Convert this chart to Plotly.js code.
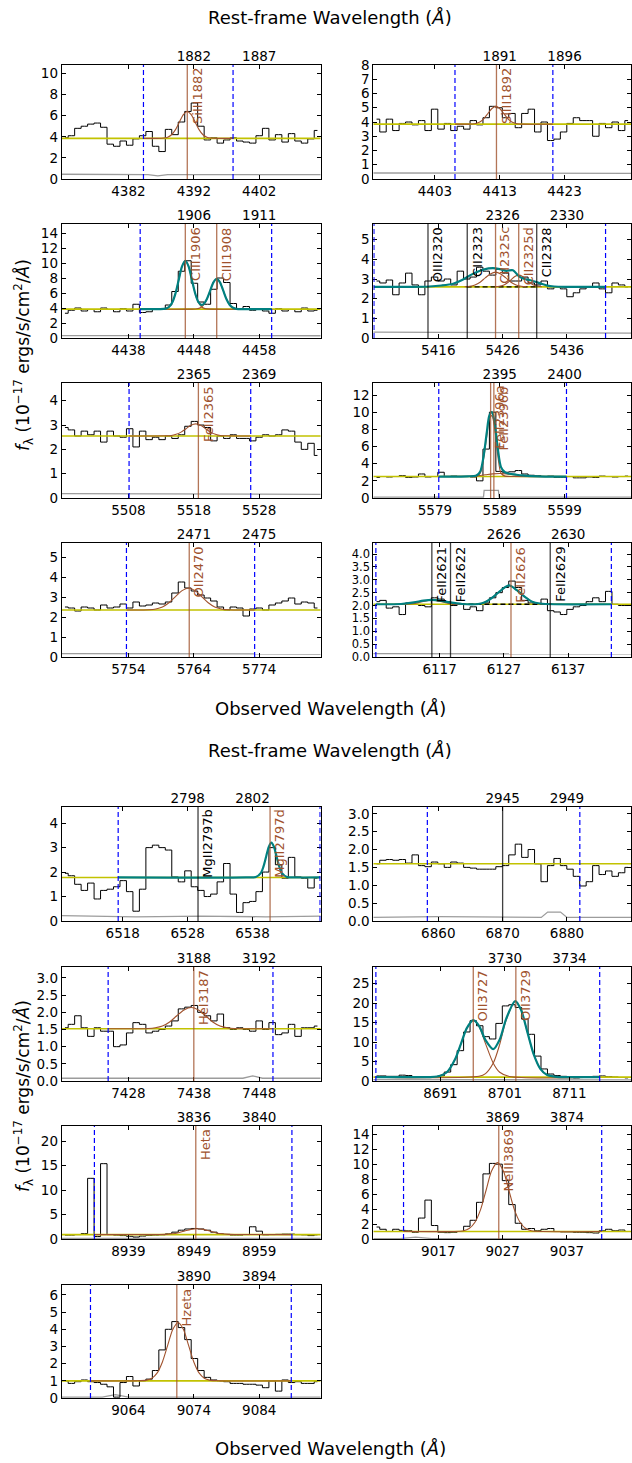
<!DOCTYPE html>
<html><head><meta charset="utf-8">
<script src="https://cdn.plot.ly/plotly-3.0.1.min.js"></script>
<style>html,body{margin:0;padding:0;background:#fff}#c{width:632px;height:1463px}</style>
</head><body><div id="c"></div>
<script>
// ================= DATA =================
// ---- panel 1 : SiIII 1882 ----
const p1Span = [4371.8, 4411.4];
const p1Flux = [3.9,4.1,4.8,5.0,5.2,5.3,4.9,3.3,3.1,3.6,3.2,3.8,4.1,4.5,3.1,2.6,4.7,4.2,5.4,6.4,7.2,5.0,3.7,3.9,3.4,3.7,3.9,3.6,3.5,3.4,4.1,4.8,3.7,4.2,3.5,4.3,3.6,3.4,3.8,4.6];
const p1Cont = 3.85;
const p1ErrX = [4371.8, 4383, 4385, 4386.5, 4388, 4411.4];
const p1ErrY = [0.45, 0.43, 0.42, 0.3, 0.42, 0.42];
const p1Lines = [4391.0];
const p1Names = ['SiIII1882'];
const p1Fitted = [1];
const p1Window = [4384.3, 4398.0];
const p1ObsTicks = [4382, 4392, 4402];
const p1RestTicks = ['1882', '1887'];
const p1FitX = [], p1FitY = [];
const p1CompX = [[4384.3,4386.2,4387.4,4388.0,4388.6,4389.2,4389.8,4390.4,4391.0,4391.6,4392.2,4392.8,4393.4,4394.0,4394.6,4395.8,4398.0]];
const p1CompY = [[3.85,3.85,3.88,3.96,4.19,4.68,5.40,6.10,6.40,6.10,5.40,4.68,4.19,3.96,3.88,3.85,3.85]];
const p1BaseX = [];

// ---- panel 2 : SiIII 1892 ----
const p2Span = [4393.5, 4433.3];
const p2Flux = [4.2,3.3,4.2,3.4,3.9,4.0,3.8,4.1,3.4,4.9,3.5,3.9,3.4,3.7,3.5,4.1,3.8,4.3,5.1,5.0,4.3,4.6,3.6,4.6,4.9,3.3,4.0,2.7,2.8,3.3,3.9,4.3,4.1,4.1,3.0,3.9,3.6,4.0,3.4,4.1];
const p2Cont = 3.85;
const p2ErrX = [4393.5, 4433.3];
const p2ErrY = [0.42, 0.4];
const p2Lines = [4412.5];
const p2Names = ['SiIII1892'];
const p2Fitted = [1];
const p2Window = [4406.1, 4421.2];
const p2ObsTicks = [4403, 4413, 4423];
const p2RestTicks = ['1891', '1896'];
const p2FitX = [], p2FitY = [];
const p2CompX = [[4406.1,4408.2,4408.8,4409.4,4410.0,4410.6,4411.2,4411.8,4412.4,4413.0,4413.6,4414.2,4414.8,4415.4,4416.0,4416.6,4421.2]];
const p2CompY = [[3.85,3.85,3.86,3.91,4.02,4.26,4.61,4.95,5.10,4.95,4.61,4.26,4.02,3.91,3.86,3.85,3.85]];
const p2BaseX = [];

// ---- panel 3 : CIII] 1906/1908 ----
const p3Span = [4427.8, 4467.4];
const p3Flux = [3.3,3.7,4.0,3.6,3.8,3.5,4.0,3.8,3.5,3.9,3.6,4.5,3.4,3.5,3.8,3.9,4.4,6.2,8.9,10.3,7.3,4.8,4.5,6.5,8.0,7.4,4.6,3.9,4.2,3.7,3.9,3.6,3.3,3.9,3.6,3.8,3.5,4.0,3.6,3.7];
const p3Cont = 3.85;
const p3ErrX = [4427.8, 4467.4];
const p3ErrY = [0.32, 0.3];
const p3Lines = [4446.7, 4451.5];
const p3Names = ['CIII1906', 'CIII1908'];
const p3Fitted = [1, 1];
const p3Window = [4439.8, 4459.9];
const p3ObsTicks = [4438, 4448, 4458];
const p3RestTicks = ['1906', '1911'];
const p3FitX = [4439.8,4442.7,4443.7,4444.2,4444.7,4445.2,4445.7,4446.2,4446.7,4447.2,4447.7,4448.2,4448.7,4449.1,4449.5,4450.0,4450.5,4451.0,4451.5,4452.0,4452.5,4453.0,4453.5,4454.0,4454.5,4455.5,4459.9];
const p3FitY = [3.85,3.85,3.92,4.13,4.72,5.95,7.77,9.54,10.30,9.54,7.77,5.97,4.80,4.44,4.53,5.20,6.31,7.42,7.90,7.42,6.31,5.17,4.40,4.03,3.89,3.85,3.85];
const p3CompX = [[4439.8,4442.7,4443.7,4444.2,4444.7,4445.2,4445.7,4446.2,4446.7,4447.2,4447.7,4448.2,4448.7,4449.2,4449.7,4450.7,4459.9],
                 [4439.8,4447.5,4448.5,4449.0,4449.5,4450.0,4450.5,4451.0,4451.5,4452.0,4452.5,4453.0,4453.5,4454.0,4454.5,4455.5,4459.9]];
const p3CompY = [[3.85,3.85,3.92,4.13,4.72,5.95,7.77,9.54,10.30,9.54,7.77,5.95,4.72,4.13,3.92,3.85,3.85],
                 [3.85,3.85,3.89,4.03,4.40,5.17,6.31,7.42,7.90,7.42,6.31,5.17,4.40,4.03,3.89,3.85,3.85]];
const p3BaseX = [];

// ---- panel 4 : CII] 2326 complex ----
const p4Span = [5405.9, 5446.0];
const p4Flux = [2.9,2.8,2.95,2.2,2.8,3.3,2.7,2.2,2.9,3.1,2.9,3.0,2.7,3.4,3.0,3.1,3.6,3.4,3.2,3.5,3.3,2.9,2.9,3.1,2.8,2.7,2.9,2.5,2.6,2.5,2.1,2.3,2.5,2.6,2.8,2.5,2.3,2.8,2.7,2.6];
const p4Cont = 2.6;
const p4ErrX = [5405.9, 5446.0];
const p4ErrY = [0.3, 0.25];
const p4Lines = [5414.4, 5420.5, 5424.9, 5428.5, 5431.3];
const p4Names = ['OIII2320', 'CII2323', 'CII2325c', 'CII2325d', 'CII2328'];
const p4Fitted = [0, 0, 1, 1, 0];
const p4Window = [5406.0, 5442.0];
const p4ObsTicks = [5416, 5426, 5436];
const p4RestTicks = ['2326', '2330'];
const p4FitX = [5406.0,5412.0,5414.6,5416.5,5418.3,5419.7,5421.0,5422.0,5423.0,5424.5,5425.6,5426.6,5427.6,5428.6,5429.4,5430.2,5431.2,5432.0,5432.8,5434.0,5436.0,5442.0];
const p4FitY = [2.6,2.6,2.62,2.67,2.76,2.95,3.2,3.36,3.48,3.55,3.5,3.42,3.45,3.12,3.0,2.95,2.85,2.76,2.68,2.62,2.6,2.6];
const p4CompX = [[5420.1,5420.9,5421.7,5422.5,5423.3,5424.1,5424.9,5425.7,5426.5,5427.3,5428.1,5428.9,5429.7],
                 [5424.9,5425.5,5426.1,5426.7,5427.3,5427.9,5428.5,5429.1,5429.7,5430.3,5430.9,5431.5,5432.1]];
const p4CompY = [[2.61,2.63,2.70,2.84,3.06,3.26,3.35,3.26,3.06,2.84,2.70,2.63,2.61],
                 [2.61,2.63,2.68,2.80,2.96,3.13,3.20,3.13,2.96,2.80,2.68,2.63,2.61]];
const p4BaseX = [5420.4, 5431.2];

// ---- panel 5 : FeII 2365 ----
const p5Span = [5497.8, 5537.4];
const p5Flux = [2.9,2.8,2.55,2.75,2.6,2.75,2.3,2.75,2.55,2.5,2.85,2.1,2.75,2.4,2.5,2.4,2.55,2.45,2.6,2.95,3.15,3.0,2.9,2.35,2.55,2.45,2.6,2.45,2.45,2.35,2.5,2.6,2.55,2.6,2.8,2.75,2.3,2.0,2.25,1.75];
const p5Cont = 2.55;
const p5ErrX = [5497.8, 5537.4];
const p5ErrY = [0.18, 0.15];
const p5Lines = [5518.7];
const p5Names = ['FeII2365'];
const p5Fitted = [1];
const p5Window = [5508.1, 5526.7];
const p5ObsTicks = [5508, 5518, 5528];
const p5RestTicks = ['2365', '2369'];
const p5FitX = [], p5FitY = [];
const p5CompX = [[5508.1,5513.8,5514.55,5515.3,5516.05,5516.8,5517.55,5518.3,5519.05,5519.8,5520.55,5521.3,5522.05,5522.8,5526.7]];
const p5CompY = [[2.55,2.56,2.57,2.62,2.71,2.85,2.99,3.05,2.99,2.85,2.71,2.62,2.57,2.56,2.55]];
const p5BaseX = [];

// ---- panel 6 : FeII* 2396 ----
const p6Span = [5569.5, 5609.3];
const p6Flux = [2.4,2.5,2.45,2.5,2.6,2.4,2.45,2.8,2.45,2.5,3.0,2.5,2.55,2.5,2.5,2.45,2.0,5.7,10.0,3.1,3.0,3.05,3.2,2.8,2.65,2.6,2.5,2.55,2.4,2.4,2.5,2.35,2.35,2.45,2.4,2.55,2.5,2.45,2.5,2.55];
const p6Cont = 2.5;
const p6ErrX = [5569.5, 5586.5, 5586.6, 5588.8, 5588.9, 5609.3];
const p6ErrY = [0.1, 0.1, 0.9, 0.9, 0.1, 0.1];
const p6Lines = [5587.6, 5588.1];
const p6Names = ['FeII2396a', 'FeII2396b'];
const p6Fitted = [1, 1];
const p6Window = [5579.6, 5599.3];
const p6ObsTicks = [5579, 5589, 5599];
const p6RestTicks = ['2395', '2400'];
const p6FitX = [5579.6,5584.0,5585.4,5586.0,5586.5,5587.0,5587.4,5587.8,5588.2,5588.7,5589.2,5589.8,5590.5,5591.5,5592.5,5594.0,5596.0,5599.3];
const p6FitY = [2.5,2.53,2.62,3.1,4.8,7.6,9.6,10.0,8.9,5.8,3.6,3.0,2.82,2.72,2.63,2.55,2.5,2.5];
const p6CompX = [[5579.6,5584.5,5585.4,5586.0,5586.5,5587.0,5587.4,5587.8,5588.2,5588.7,5589.2,5589.8,5591.0,5599.3],
                 [5579.6,5583.0,5584.6,5585.7,5586.8,5587.9,5589.0,5590.1,5591.2,5592.3,5593.4,5595.0,5599.3]];
const p6CompY = [[2.5,2.5,2.52,2.9,4.5,7.2,9.2,9.6,8.2,5.0,2.9,2.55,2.5,2.5],
                 [2.5,2.52,2.55,2.61,2.71,2.81,2.85,2.81,2.71,2.61,2.55,2.52,2.5]];
const p6BaseX = [];

// ---- panel 7 : [OII] 2470 ----
const p7Span = [5743.8, 5783.4];
const p7Flux = [2.5,2.45,2.3,2.5,2.45,2.35,2.6,2.45,2.5,2.65,2.45,2.75,2.55,2.6,2.7,2.65,2.75,3.2,3.75,3.45,3.3,3.1,2.95,2.8,2.5,2.35,2.5,2.45,2.05,2.4,2.45,2.35,2.6,2.7,2.8,2.95,2.65,2.75,2.7,2.45];
const p7Cont = 2.35;
const p7ErrX = [5743.8, 5783.4];
const p7ErrY = [0.17, 0.15];
const p7Lines = [5763.3];
const p7Names = ['OII2470'];
const p7Fitted = [1];
const p7Window = [5753.7, 5773.3];
const p7ObsTicks = [5754, 5764, 5774];
const p7RestTicks = ['2471', '2475'];
const p7FitX = [], p7FitY = [];
const p7CompX = [[5753.7,5757.2,5758.2,5759.2,5760.2,5761.2,5762.2,5763.2,5764.2,5765.2,5766.2,5767.2,5768.2,5769.2,5773.3]];
const p7CompY = [[2.35,2.36,2.40,2.50,2.71,3.02,3.32,3.45,3.32,3.02,2.71,2.50,2.40,2.36,2.35]];
const p7BaseX = [];

// ---- panel 8 : FeII* 2626 ----
const p8Span = [6106.7, 6146.8];
const p8Flux = [2.15,2.2,1.9,1.95,1.65,2.1,2.05,2.0,1.95,2.3,2.25,2.15,2.0,2.05,1.85,1.95,1.8,2.1,2.3,2.5,2.7,2.95,2.7,2.2,2.1,2.05,2.25,1.8,1.75,1.65,1.85,1.95,2.0,2.15,2.3,2.15,2.55,2.05,2.0,2.0];
const p8Cont = 2.05;
const p8ErrX = [6106.7, 6146.8];
const p8ErrY = [0.13, 0.12];
const p8Lines = [6115.8, 6118.7, 6128.1, 6134.2];
const p8Names = ['FeII2621', 'FeII2622', 'FeII2626', 'FeII2629'];
const p8Fitted = [0, 0, 1, 0];
const p8Window = [6107.1, 6143.7];
const p8ObsTicks = [6117, 6127, 6137];
const p8RestTicks = ['2626', '2630'];
const p8FitX = [6107.1,6111.0,6113.0,6114.5,6115.8,6117.1,6118.6,6120.5,6123.0,6124.2,6125.4,6126.6,6127.8,6129.0,6130.2,6131.4,6132.6,6135.0,6143.7];
const p8FitY = [2.05,2.06,2.12,2.19,2.22,2.19,2.12,2.06,2.06,2.15,2.35,2.6,2.78,2.6,2.35,2.15,2.08,2.05,2.05];
const p8CompX = [[6119.0,6123.0,6124.2,6125.4,6126.6,6127.8,6129.0,6130.2,6131.4,6132.6,6136.0],
                 [6110.0,6112.8,6114.3,6115.8,6117.3,6118.8,6121.0]];
const p8CompY = [[2.05,2.06,2.15,2.35,2.6,2.78,2.6,2.35,2.15,2.06,2.05],
                 [2.05,2.07,2.15,2.22,2.15,2.07,2.05]];
const p8BaseX = [6119.0, 6134.5];

// ---- panel 9 : MgII 2797 ----
const p9Span = [6508.6, 6548.5];
const p9Flux = [1.95,1.85,1.5,1.25,1.55,0.9,1.25,1.3,1.4,1.65,1.2,0.4,1.3,3.0,3.1,3.0,2.9,1.8,1.6,2.05,1.4,1.25,1.0,1.1,1.6,2.35,1.1,0.35,0.75,0.8,1.2,2.0,3.0,2.3,1.75,2.6,1.8,1.75,1.35,1.75];
const p9Cont = 1.78;
const p9ErrX = [6508.6, 6520, 6530, 6540, 6548.5];
const p9ErrY = [0.22, 0.17, 0.2, 0.17, 0.2];
const p9Lines = [6529.6, 6540.7];
const p9Names = ['MgII2797b', 'MgII2797d'];
const p9Fitted = [0, 1];
const p9Window = [6517.3, 6548.4];
const p9ObsTicks = [6518, 6528, 6538];
const p9RestTicks = ['2798', '2802'];
const p9FitX = [6517.3,6537.0,6538.5,6539.3,6539.7,6540.1,6540.5,6540.9,6541.3,6541.7,6542.1,6542.5,6543.3,6544.5,6548.4];
const p9FitY = [1.78,1.78,1.80,1.97,2.24,2.64,3.03,3.20,3.03,2.64,2.24,1.97,1.80,1.78,1.78];
const p9CompX = [], p9CompY = [];
const p9BaseX = [];

// ---- panel 10 : 2945 ----
const p10Span = [6849.9, 6890.0];
const p10Flux = [1.6,1.7,1.72,1.7,1.72,1.62,1.85,1.55,1.52,1.65,1.6,1.5,1.65,1.62,1.5,1.48,1.45,1.45,1.45,1.52,1.55,1.85,2.15,1.78,2.0,1.6,1.1,1.55,1.75,1.55,1.45,1.25,0.98,1.1,1.55,1.3,1.4,1.25,1.35,1.5];
const p10Cont = 1.6;
const p10ErrX = [6849.9, 6860, 6876, 6877, 6879, 6880, 6890.0];
const p10ErrY = [0.1, 0.12, 0.1, 0.25, 0.25, 0.1, 0.1];
const p10Lines = [6870.0];
const p10Names = [''];
const p10Fitted = [0];
const p10Window = [6858.3, 6882.0];
const p10ObsTicks = [6860, 6870, 6880];
const p10RestTicks = ['2945', '2949'];
const p10FitX = [], p10FitY = [];
const p10CompX = [], p10CompY = [];
const p10BaseX = [];

// ---- panel 11 : HeI 3187 ----
const p11Span = [7417.8, 7457.4];
const p11Flux = [1.55,1.65,1.9,1.55,1.3,1.55,1.45,1.45,1.0,1.05,1.4,1.7,1.65,1.4,1.45,1.5,1.6,1.75,2.1,2.15,2.2,2.0,1.9,1.75,1.95,1.55,1.5,1.55,1.5,1.45,1.75,1.5,1.7,1.35,1.4,1.65,1.3,1.55,1.55,1.6];
const p11Cont = 1.52;
const p11ErrX = [7417.8, 7445.5, 7447, 7448.5, 7457.4];
const p11ErrY = [0.08, 0.08, 0.15, 0.08, 0.08];
const p11Lines = [7438.0];
const p11Names = ['HeI3187'];
const p11Fitted = [1];
const p11Window = [7424.9, 7450.1];
const p11ObsTicks = [7428, 7438, 7448];
const p11RestTicks = ['3188', '3192'];
const p11FitX = [], p11FitY = [];
const p11CompX = [[7424.9,7431.0,7432.1,7433.2,7434.3,7435.4,7436.5,7437.6,7438.7,7439.8,7440.9,7442.0,7443.1,7444.2,7450.1]];
const p11CompY = [[1.52,1.53,1.55,1.60,1.72,1.90,2.07,2.14,2.07,1.90,1.72,1.60,1.55,1.53,1.52]];
const p11BaseX = [];

// ---- panel 12 : [OII] 3727/3729 ----
const p12Span = [8680.6, 8720.6];
const p12Flux = [1.3,1.3,1.2,1.2,1.5,1.4,1.0,0.9,0.9,0.9,1.3,2.3,4.2,7.8,12.6,15.5,14.2,11.4,10.8,14.8,19.3,19.6,18.9,15.9,12.0,6.4,3.1,1.8,1.4,1.2,1.0,0.8,0.9,0.9,1.2,1.3,1.1,1.0,0.9,0.8];
const p12Cont = 1.0;
const p12ErrX = [8680.6, 8720.6];
const p12ErrY = [0.35, 0.3];
const p12Lines = [8696.1, 8702.7];
const p12Names = ['OII3727', 'OII3729'];
const p12Fitted = [1, 1];
const p12Window = [8681.0, 8715.7];
const p12ObsTicks = [8691, 8701, 8711];
const p12RestTicks = ['3730', '3734'];
const p12FitX = [8681.0,8689.0,8690.5,8692.0,8693.3,8694.2,8695.1,8696.1,8697.0,8698.0,8699.2,8700.2,8701.2,8702.6,8703.5,8704.5,8705.5,8706.5,8707.5,8709.0,8711.0,8715.7];
const p12FitY = [1.0,1.01,1.15,2.25,5.65,9.62,13.6,15.64,14.18,10.5,8.19,10.66,15.98,20.53,18.3,12.5,6.7,3.1,1.58,1.05,1.0,1.0];
const p12CompX = [[8681.0,8690.5,8692.0,8693.3,8694.2,8695.1,8696.1,8697.0,8698.0,8699.2,8700.2,8701.7,8715.7],
                  [8681.0,8697.0,8698.0,8699.2,8700.2,8701.2,8702.6,8703.5,8704.5,8705.5,8706.5,8707.5,8709.0,8715.7]];
const p12CompY = [[1.0,1.15,2.25,5.65,9.62,13.6,15.6,13.98,9.61,4.59,2.25,1.15,1.0],
                  [1.0,1.2,1.89,4.6,9.41,15.65,20.5,18.3,12.5,6.7,3.1,1.58,1.05,1.0]];
const p12BaseX = [];

// ---- panel 13 : H-eta ----
const p13Span = [8928.8, 8968.4];
const p13Flux = [0.8,0.8,0.9,1.1,12.4,0.5,15.4,0.9,0.8,0.7,0.55,0.4,0.6,0.75,0.8,0.85,1.05,1.4,1.8,2.05,2.15,2.05,1.8,1.4,1.05,0.95,0.8,0.8,0.9,2.5,1.6,0.85,0.9,0.95,1.0,1.0,0.9,0.85,0.7,0.85];
const p13Cont = 0.9;
const p13ErrX = [8928.8, 8968.4];
const p13ErrY = [0.12, 0.1];
const p13Lines = [8949.3];
const p13Names = ['Heta'];
const p13Fitted = [1];
const p13Window = [8933.8, 8964.0];
const p13ObsTicks = [8939, 8949, 8959];
const p13RestTicks = ['3836', '3840'];
const p13FitX = [], p13FitY = [];
const p13CompX = [[8933.8,8943.8,8944.75,8945.7,8946.65,8947.6,8948.55,8949.5,8950.45,8951.4,8952.35,8953.3,8954.25,8955.2,8964.0]];
const p13CompY = [[0.9,0.91,0.95,1.06,1.29,1.63,1.96,2.10,1.96,1.63,1.29,1.06,0.95,0.91,0.9]];
const p13BaseX = [];

// ---- panel 14 : [NeIII] 3869 ----
const p14Span = [9006.9, 9047.0];
const p14Flux = [1.6,1.3,1.0,1.3,1.15,1.1,0.9,2.8,5.2,1.8,0.9,0.85,0.9,1.0,1.7,2.5,4.9,8.7,10.1,10.0,7.8,4.6,2.1,1.3,1.4,1.1,1.3,1.4,1.0,0.95,0.95,0.9,0.9,0.85,0.8,1.1,1.3,1.1,1.2,1.0];
const p14Cont = 1.0;
const p14ErrX = [9006.9, 9011, 9013.5, 9016, 9047.0];
const p14ErrY = [0.05, 0.05, 0.25, 0.05, 0.05];
const p14Lines = [9026.4];
const p14Names = ['NeIII3869'];
const p14Fitted = [1];
const p14Window = [9011.6, 9042.4];
const p14ObsTicks = [9017, 9027, 9037];
const p14RestTicks = ['3869', '3874'];
const p14FitX = [], p14FitY = [];
const p14CompX = [[9011.6,9019.2,9020.95,9021.8,9022.7,9023.6,9024.45,9025.3,9026.2,9027.1,9027.95,9028.8,9029.7,9030.6,9031.45,9033.2,9042.4]];
const p14CompY = [[1.0,1.0,1.10,1.40,2.24,3.99,6.58,9.11,10.2,9.11,6.58,3.99,2.24,1.40,1.10,1.0,1.0]];
const p14BaseX = [];

// ---- panel 15 : H-zeta ----
const p15Span = [9053.8, 9093.4];
const p15Flux = [1.0,0.85,0.95,1.05,0.95,0.9,0.8,0.65,0.05,0.9,1.25,0.7,1.0,1.1,1.6,2.8,4.0,4.45,4.1,3.4,2.3,1.6,1.2,1.05,1.0,0.95,0.85,0.85,0.8,0.8,0.75,0.6,1.0,0.4,1.05,0.9,0.95,0.85,0.85,0.95];
const p15Cont = 1.0;
const p15ErrX = [9053.8, 9060, 9062, 9064, 9093.4];
const p15ErrY = [0.05, 0.05, 0.2, 0.05, 0.05];
const p15Lines = [9071.4];
const p15Names = ['Hzeta'];
const p15Fitted = [1];
const p15Window = [9058.2, 9088.9];
const p15ObsTicks = [9064, 9074, 9084];
const p15RestTicks = ['3890', '3894'];
const p15FitX = [], p15FitY = [];
const p15CompX = [[9058.2,9065.2,9066.8,9067.6,9068.4,9069.2,9070.0,9070.8,9071.6,9072.4,9073.2,9074.0,9074.8,9075.6,9076.4,9078.0,9088.9]];
const p15CompY = [[1.0,1.0,1.04,1.15,1.46,2.10,3.06,4.0,4.4,4.0,3.06,2.10,1.46,1.15,1.04,1.0,1.0]];
const p15BaseX = [];

// ================= BUILD =================
function P(span, flux, cont, errX, errY, lines, names, fitted, win, obs, rest, fitX, fitY, compX, compY, baseX) {
  return {span, flux, cont, errX, errY, lines, names, fitted, win, obs, rest, fitX, fitY, compX, compY, baseX};
}
const panels = [
  P(p1Span,p1Flux,p1Cont,p1ErrX,p1ErrY,p1Lines,p1Names,p1Fitted,p1Window,p1ObsTicks,p1RestTicks,p1FitX,p1FitY,p1CompX,p1CompY,p1BaseX),
  P(p2Span,p2Flux,p2Cont,p2ErrX,p2ErrY,p2Lines,p2Names,p2Fitted,p2Window,p2ObsTicks,p2RestTicks,p2FitX,p2FitY,p2CompX,p2CompY,p2BaseX),
  P(p3Span,p3Flux,p3Cont,p3ErrX,p3ErrY,p3Lines,p3Names,p3Fitted,p3Window,p3ObsTicks,p3RestTicks,p3FitX,p3FitY,p3CompX,p3CompY,p3BaseX),
  P(p4Span,p4Flux,p4Cont,p4ErrX,p4ErrY,p4Lines,p4Names,p4Fitted,p4Window,p4ObsTicks,p4RestTicks,p4FitX,p4FitY,p4CompX,p4CompY,p4BaseX),
  P(p5Span,p5Flux,p5Cont,p5ErrX,p5ErrY,p5Lines,p5Names,p5Fitted,p5Window,p5ObsTicks,p5RestTicks,p5FitX,p5FitY,p5CompX,p5CompY,p5BaseX),
  P(p6Span,p6Flux,p6Cont,p6ErrX,p6ErrY,p6Lines,p6Names,p6Fitted,p6Window,p6ObsTicks,p6RestTicks,p6FitX,p6FitY,p6CompX,p6CompY,p6BaseX),
  P(p7Span,p7Flux,p7Cont,p7ErrX,p7ErrY,p7Lines,p7Names,p7Fitted,p7Window,p7ObsTicks,p7RestTicks,p7FitX,p7FitY,p7CompX,p7CompY,p7BaseX),
  P(p8Span,p8Flux,p8Cont,p8ErrX,p8ErrY,p8Lines,p8Names,p8Fitted,p8Window,p8ObsTicks,p8RestTicks,p8FitX,p8FitY,p8CompX,p8CompY,p8BaseX),
  P(p9Span,p9Flux,p9Cont,p9ErrX,p9ErrY,p9Lines,p9Names,p9Fitted,p9Window,p9ObsTicks,p9RestTicks,p9FitX,p9FitY,p9CompX,p9CompY,p9BaseX),
  P(p10Span,p10Flux,p10Cont,p10ErrX,p10ErrY,p10Lines,p10Names,p10Fitted,p10Window,p10ObsTicks,p10RestTicks,p10FitX,p10FitY,p10CompX,p10CompY,p10BaseX),
  P(p11Span,p11Flux,p11Cont,p11ErrX,p11ErrY,p11Lines,p11Names,p11Fitted,p11Window,p11ObsTicks,p11RestTicks,p11FitX,p11FitY,p11CompX,p11CompY,p11BaseX),
  P(p12Span,p12Flux,p12Cont,p12ErrX,p12ErrY,p12Lines,p12Names,p12Fitted,p12Window,p12ObsTicks,p12RestTicks,p12FitX,p12FitY,p12CompX,p12CompY,p12BaseX),
  P(p13Span,p13Flux,p13Cont,p13ErrX,p13ErrY,p13Lines,p13Names,p13Fitted,p13Window,p13ObsTicks,p13RestTicks,p13FitX,p13FitY,p13CompX,p13CompY,p13BaseX),
  P(p14Span,p14Flux,p14Cont,p14ErrX,p14ErrY,p14Lines,p14Names,p14Fitted,p14Window,p14ObsTicks,p14RestTicks,p14FitX,p14FitY,p14CompX,p14CompY,p14BaseX),
  P(p15Span,p15Flux,p15Cont,p15ErrX,p15ErrY,p15Lines,p15Names,p15Fitted,p15Window,p15ObsTicks,p15RestTicks,p15FitX,p15FitY,p15CompX,p15CompY,p15BaseX)
];

// layout-only settings
const W = 632, H = 1463;
const FONT = 'DejaVu Sans, Bitstream Vera Sans, sans-serif';
const colsPx = [[61.7, 320.7], [373.3, 631.3]];
const rowsPx = [[65,179],[224,338],[383,498],[543,657],[807,921],[967,1081],[1126,1239],[1285,1398]];
// [y max, tick step, tick format, y tick font size]
const yCfg = [[10.8,2,'',13.5],[8,1,'',13.5],[15.2,2,'',13.5],[5.8,1,'',13.5],[4.73,1,'',13.5],[13.4,2,'',13.5],[5.7,1,'',13.5],[4.43,0.5,'.1f',11.5],
              [4.66,1,'',13.5],[3.19,0.5,'.1f',13.5],[3.32,0.5,'.1f',13.5],[29.3,5,'',13.5],[23.1,5,'',13.5],[15.1,2,'',13.5],[6.58,1,'',13.5]];
const C_BROWN = '#a0522d', C_TEAL = '#008080', C_YEL = '#c2c200', C_BLUE = '#0000ff';
const NBIN = 40;

function grid(span, n) {
  const s = (span[1] - span[0]) / n, out = [];
  for (let i = 0; i < n; i++) out.push(span[0] + (i + 0.5) * s);
  return out;
}

const traces = [], shapes = [], annotations = [];
const layout = {
  width: W, height: H, margin: {l:0, r:0, t:0, b:0},
  paper_bgcolor: '#fff', plot_bgcolor: '#fff', showlegend: false,
  font: {family: FONT, size: 13, color: '#000'}
};
const tickfont = {family: FONT, size: 13.5, color: '#000'};

panels.forEach((p, i) => {
  const n = i + 1;
  const xid = n === 1 ? 'x' : 'x' + n, yid = n === 1 ? 'y' : 'y' + n;
  const xkey = n === 1 ? 'xaxis' : 'xaxis' + n, ykey = n === 1 ? 'yaxis' : 'yaxis' + n;
  const tn = n + 15, tid = 'x' + tn, tkey = 'xaxis' + tn;
  const r = Math.floor(i / 2), c = i % 2;
  const cx = colsPx[c], ry = rowsPx[r], yc = yCfg[i];

  layout[xkey] = {domain: [cx[0]/W, cx[1]/W], anchor: yid, range: p.span,
    tickvals: p.obs, ticktext: p.obs.map(String), ticks: 'inside', ticklen: 4, tickcolor: '#000',
    showline: true, linecolor: '#000', linewidth: 1, mirror: 'ticks',
    showgrid: false, zeroline: false, tickfont: tickfont, fixedrange: true};
  layout[tkey] = {overlaying: xid, side: 'top', anchor: yid, range: p.span,
    tickvals: p.obs.slice(1), ticktext: p.rest, ticks: 'inside', ticklen: 4, tickcolor: '#000',
    showline: false, showgrid: false, zeroline: false, tickfont: tickfont, fixedrange: true};
  layout[ykey] = {domain: [1 - ry[1]/H, 1 - ry[0]/H], anchor: xid, range: [0, yc[0]],
    tick0: 0, dtick: yc[1], tickformat: yc[2], ticks: 'inside', ticklen: 4, tickcolor: '#000',
    showline: true, linecolor: '#000', linewidth: 1, mirror: 'ticks',
    showgrid: false, zeroline: false, tickfont: {family: FONT, size: yc[3], color: '#000'}, fixedrange: true};

  const base = {xaxis: xid, yaxis: yid, mode: 'lines', hoverinfo: 'skip', showlegend: false};
  traces.push({x: [], y: [], xaxis: tid, yaxis: yid, mode: 'lines', hoverinfo: 'skip', showlegend: false});
  traces.push(Object.assign({}, base, {x: p.errX, y: p.errY, line: {color: '#9c9c9c', width: 1.3}}));
  traces.push(Object.assign({}, base, {x: grid(p.span, NBIN), y: p.flux, line: {color: '#000', width: 1, shape: 'hvh'}}));
  traces.push(Object.assign({}, base, {x: p.span, y: [p.cont, p.cont], line: {color: C_YEL, width: 1.6}}));
  if (p.baseX.length) traces.push(Object.assign({}, base, {x: p.baseX, y: [p.cont, p.cont], line: {color: '#000', width: 1.3, dash: '5px,3px'}}));
  p.compX.forEach((cxs, k) => traces.push(Object.assign({}, base, {x: cxs, y: p.compY[k], line: {color: C_BROWN, width: 1.1, shape: 'spline', smoothing: 0.8}})));
  if (p.fitX.length) traces.push(Object.assign({}, base, {x: p.fitX, y: p.fitY, line: {color: C_TEAL, width: 2.2, shape: 'spline', smoothing: 0.8}}));

  p.win.forEach(w => shapes.push({type: 'line', xref: xid, yref: yid + ' domain', x0: w, x1: w, y0: 0, y1: 1,
    line: {color: C_BLUE, width: 1.2, dash: '5px,3px'}}));
  p.lines.forEach((lx, k) => {
    const fit = p.fitted[k] === 1;
    shapes.push({type: 'line', xref: xid, yref: yid + ' domain', x0: lx, x1: lx, y0: 0, y1: 1,
      line: {color: fit ? 'rgba(160,82,45,0.8)' : 'rgba(0,0,0,0.75)', width: 1.3}});
    if (p.names[k]) annotations.push({xref: xid, yref: yid + ' domain', x: lx, y: 0.99, xanchor: 'left', yanchor: 'top',
      text: p.names[k], textangle: -90, showarrow: false, xshift: 0,
      font: {family: FONT, size: 13, color: fit ? C_BROWN : '#000'}});
  });
});

const titleFont = {family: FONT, size: 18, color: '#000'};
const yTitleFont = {family: FONT, size: 17, color: '#000'};
const restTitle = 'Rest-frame Wavelength (<i>Å</i>)';
const obsTitle = 'Observed Wavelength (<i>Å</i>)';
const yTitle = '<i>f</i><sub>λ</sub> (10<sup>−17</sup> ergs/s/cm<sup>2</sup>/<i>Å</i>)';
[[17, restTitle], [708, obsTitle], [750, restTitle], [1448, obsTitle]].forEach(t => annotations.push({
  xref: 'paper', yref: 'paper', x: 330/W, y: 1 - t[0]/H, xanchor: 'center', yanchor: 'middle',
  text: t[1], showarrow: false, font: titleFont}));
[355, 1096].forEach(yy => annotations.push({
  xref: 'paper', yref: 'paper', x: 23/W, y: 1 - yy/H, xanchor: 'center', yanchor: 'middle',
  text: yTitle, textangle: -90, showarrow: false, font: yTitleFont}));

layout.shapes = shapes;
layout.annotations = annotations;
Plotly.newPlot('c', traces, layout, {displayModeBar: false, staticPlot: true});
</script></body></html>
